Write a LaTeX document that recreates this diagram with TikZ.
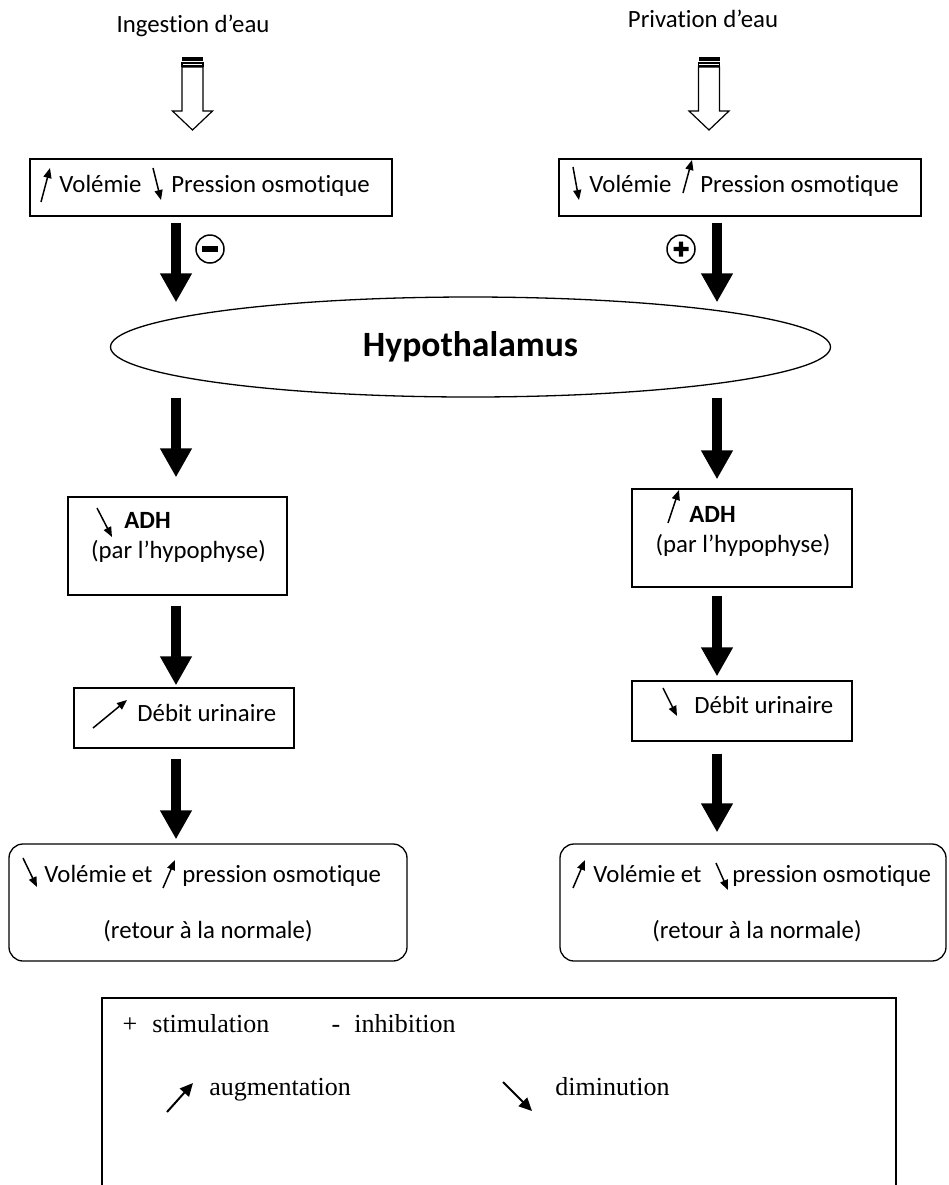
\documentclass[tikz,border=0pt]{standalone}
\usepackage{fontspec}
\setmainfont{Carlito}[Ligatures=NoCommon]
\newfontfamily\legendfont{Liberation Serif}
\usetikzlibrary{positioning, calc, arrows.meta, shapes.geometric}

\begin{document}
\begin{tikzpicture}[x=0.5pt, y=-0.5pt,
    box/.style={draw, line width=0.65pt, inner sep=0},
    txt/.style={font=\fontsize{12.4pt}{14pt}\selectfont, inner sep=0, anchor=base west},
    leg/.style={font=\legendfont\fontsize{13pt}{15pt}\selectfont, inner sep=0, anchor=base west},
    bigarr/.style={line width=5pt, -{Triangle[width=15pt,length=14.5pt]}},
    sarr/.style={line width=0.75pt, -{Triangle[width=4pt,length=5pt]}},
    larr/.style={line width=1pt, -{Triangle[width=6pt,length=6.5pt]}},
    hollowarr/.pic={
        \fill (-10.5,0) rectangle (10.5,4);
        \draw[line width=0.6pt] (-10.5,6) rectangle (10.5,9);
        \draw[line width=0.6pt] (-10.5,10) -- (-10.5,54) -- (-20,54) -- (0,73) -- (20,54) -- (10.5,54) -- (10.5,10) -- cycle;
    }
]

        \useasboundingbox (0,0) rectangle (949,1185);

        \coordinate (colL) at (176,0);
        \coordinate (colR) at (717,0);

        \node[txt, anchor=base] (ingest) at (193,32) {Ingestion d’eau};
        \node[txt, anchor=base] (privat) at (703,27) {Privation d’eau};
        \pic at (192.5,57) {hollowarr};
        \pic at (709,57) {hollowarr};

        \node[box, minimum width=181pt, minimum height=28.5pt] (vol1L) at (211,187.5) {};
        \node[box, minimum width=181pt, minimum height=28.5pt] (vol1R) at (740,187.5) {};
        \node[txt] at (59,192) {Volémie};
        \node[txt] at (171,192) {Pression osmotique};
        \node[txt] at (589,192) {Volémie};
        \node[txt] at (700,192) {Pression osmotique};
        \draw[sarr] (41,202) -- (50,168);
        \draw[sarr] (153,168) -- (161,200);
        \draw[sarr] (573,167) -- (579,200);
        \draw[sarr] (683,193) -- (692,160);

        \node[draw, circle, minimum size=14pt, inner sep=0, line width=0.75pt] (inhib) at (210,249) {};
        \fill (inhib.center) +(-8,-2.6) rectangle +(8,2.6);
        \node[draw, circle, minimum size=14pt, inner sep=0, line width=0.75pt] (stimu) at (681,249) {};
        \fill (stimu.center) +(-7.5,-2.2) rectangle +(7.5,2.2) (stimu.center) +(-2.2,-7.5) rectangle +(2.2,7.5);

        \node[box, ellipse, minimum width=360pt, minimum height=50pt, font=\fontsize{17.8pt}{20pt}\selectfont\bfseries] (hyp) at (470.5,347) {Hypothalamus};

        \node[box, minimum width=109.5pt, minimum height=49pt] (adhL) at (177.5,546) {};
        \node[box, minimum width=110pt, minimum height=49pt] (adhR) at (742,538) {};
        \node[txt, font=\fontsize{12.4pt}{14pt}\selectfont\bfseries] at (124,528) {ADH};
        \node[txt, anchor=base] at (178.5,558) {(par l’hypophyse)};
        \node[txt, font=\fontsize{12.4pt}{14pt}\selectfont\bfseries] at (689,522) {ADH};
        \node[txt, anchor=base] at (743,552) {(par l’hypophyse)};
        \draw[sarr] (97,508) -- (112,537);
        \draw[sarr] (668,523) -- (679,490);

        \node[box, minimum width=110pt, minimum height=30pt] (debL) at (184,718) {};
        \node[box, minimum width=110pt, minimum height=30pt] (debR) at (742,711) {};
        \node[txt] at (137,721) {Débit urinaire};
        \node[txt] at (694,713) {Débit urinaire};
        \draw[sarr] (93,728) -- (127,700);
        \draw[sarr] (663,688) -- (677,716);

        \node[box, rounded corners=7pt, minimum width=199pt, minimum height=58.5pt] (retL) at (208,902.5) {};
        \node[box, rounded corners=7pt, minimum width=193pt, minimum height=58.5pt] (retR) at (753,902.5) {};
        \node[txt] at (44,882) {Volémie et};
        \node[txt] at (182,882) {pression osmotique};
        \node[txt, anchor=base] at (208,938) {(retour à la normale)};
        \node[txt] at (593,882) {Volémie et};
        \node[txt] at (732,882) {pression osmotique};
        \node[txt, anchor=base] at (757,938) {(retour à la normale)};
        \draw[sarr] (23,858) -- (37,887);
        \draw[sarr] (163,888) -- (175,860);
        \draw[sarr] (573,888) -- (585,860);
        \draw[sarr] (716,863) -- (728,890);

        \draw[bigarr, shorten <=3pt, shorten >=-3pt] (vol1L.south -| colL) -- (hyp.north -| colL);
        \draw[bigarr, shorten <=3pt, shorten >=-3pt] (vol1R.south -| colR) -- (hyp.north -| colR);
        \draw[bigarr, shorten >=9.5pt] (hyp.south -| colL) -- (adhL.north -| colL);
        \draw[bigarr, shorten >=4.5pt] (hyp.south -| colR) -- (adhR.north -| colR);
        \draw[bigarr, shorten <=5pt, shorten >=1pt] (adhL.south -| colL) -- (debL.north -| colL);
        \draw[bigarr, shorten <=4pt, shorten >=2pt] (adhR.south -| colR) -- (debR.north -| colR);
        \draw[bigarr, shorten <=5pt, shorten >=2pt] (debL.south -| colL) -- (retL.north -| colL);
        \draw[bigarr, shorten <=6pt, shorten >=5.5pt] (debR.south -| colR) -- (retR.north -| colR);

        \draw[line width=0.8pt] (102,1195) |- (896,998) -- (896,1195);
        \node[leg, anchor=base] at (130,1032) {+};
        \node[leg] at (152,1032) {stimulation};
        \node[leg, anchor=base] at (336,1032) {-};
        \node[leg] at (354,1032) {inhibition};
        \node[leg] at (209,1095) {augmentation};
        \node[leg] at (555,1095) {diminution};
        \draw[larr] (167,1112) -- (193,1083);
        \draw[larr] (503,1082) -- (532,1111);

    \end{tikzpicture}
\end{document}
